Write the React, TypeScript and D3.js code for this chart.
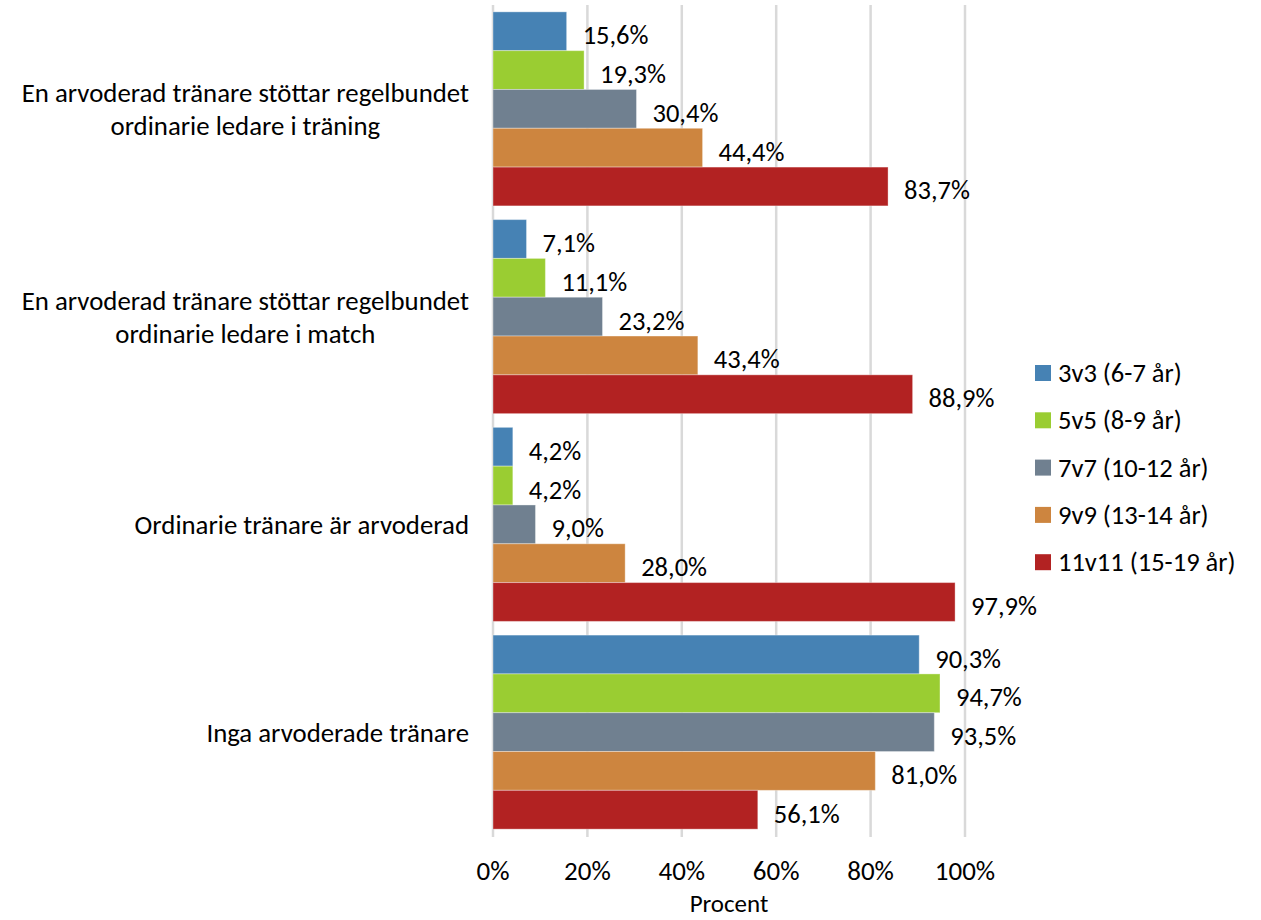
import React, { useEffect, useRef } from "react";
import * as d3 from "d3";

const categories = [
  "En arvoderad tränare stöttar regelbundet\nordinarie ledare i träning",
  "En arvoderad tränare stöttar regelbundet\nordinarie ledare i match",
  "Ordinarie tränare är arvoderad",
  "Inga arvoderade tränare",
];
const seriesNames = ["3v3 (6-7 år)", "5v5 (8-9 år)", "7v7 (10-12 år)", "9v9 (13-14 år)", "11v11 (15-19 år)"];
const seriesColors = ["#4682b4", "#9acd32", "#708090", "#cd853f", "#b22222"];
const s3v3 = [15.6, 7.1, 4.2, 90.3];
const s5v5 = [19.3, 11.1, 4.2, 94.7];
const s7v7 = [30.4, 23.2, 9.0, 93.5];
const s9v9 = [44.4, 43.4, 28.0, 81.0];
const s11v11 = [83.7, 88.9, 97.9, 56.1];
const seriesValues = [s3v3, s5v5, s7v7, s9v9, s11v11];
const xTicks = [0, 20, 40, 60, 80, 100];
const axisTitle = "Procent";

const W = 1261, H = 920;
const FONT = "Carlito, Calibri, Lato, sans-serif";

export default function App() {
  const ref = useRef<SVGSVGElement>(null);
  useEffect(() => {
    const svg = d3.select(ref.current);
    svg.selectAll("*").remove();
    const x = d3.scaleLinear().domain([0, 100]).range([493, 965]);
    const y0 = d3.scaleBand<number>().domain(d3.range(categories.length)).range([5, 836]).paddingInner(0.066).paddingOuter(0.033);
    const y1 = d3.scaleBand<number>().domain(d3.range(seriesNames.length)).range([0, y0.bandwidth()]);

    // gridlines
    svg.append("g").selectAll("line").data(xTicks).join("line")
      .attr("x1", d => x(d)).attr("x2", d => x(d))
      .attr("y1", 5).attr("y2", 837)
      .attr("stroke", "#d9d9d9").attr("stroke-width", 2.5);

    // bars
    const g = svg.append("g");
    categories.forEach((_, ci) => {
      seriesValues.forEach((vals, si) => {
        const v = vals[ci];
        const by = (y0(ci) as number) + (y1(si) as number);
        g.append("rect")
          .attr("x", x(0)).attr("y", by)
          .attr("width", x(v) - x(0)).attr("height", y1.bandwidth())
          .attr("fill", seriesColors[si])
          .attr("stroke", "rgba(255,255,255,0.35)").attr("stroke-width", 1);
        g.append("text")
          .attr("x", x(v) + 16).attr("y", by + y1.bandwidth() / 2 + 4)
          .attr("dominant-baseline", "central")
          .attr("font-family", FONT).attr("font-size", 26.5).attr("fill", "#000")
          .text(d3.format(".1f")(v).replace(".", ",") + "%");
      });
    });

    // category labels
    const cg = svg.append("g");
    categories.forEach((c, ci) => {
      const lines = c.split("\n");
      const cy = (y0(ci) as number) + y0.bandwidth() / 2;
      const lh = 33;
      const texts = lines.map((ln, li) =>
        cg.append("text")
          .attr("y", cy + (li - (lines.length - 1) / 2) * lh)
          .attr("dominant-baseline", "central")
          .attr("text-anchor", "middle")
          .attr("font-family", FONT).attr("font-size", 26.8).attr("fill", "#000")
          .text(ln)
      );
      const maxW = d3.max(texts, t => (t.node() as SVGTextElement).getComputedTextLength()) || 0;
      texts.forEach(t => t.attr("x", 469 - maxW / 2));
    });

    // x tick labels
    svg.append("g").selectAll("text").data(xTicks).join("text")
      .attr("x", d => x(d)).attr("y", 870)
      .attr("dominant-baseline", "central").attr("text-anchor", "middle")
      .attr("font-family", FONT).attr("font-size", 27).attr("fill", "#000")
      .text(d => d + "%");

    svg.append("text")
      .attr("x", (x(0) + x(100)) / 2).attr("y", 903)
      .attr("dominant-baseline", "central").attr("text-anchor", "middle")
      .attr("font-family", FONT).attr("font-size", 25).attr("fill", "#000")
      .text(axisTitle);

    // legend
    const lg = svg.append("g");
    seriesNames.forEach((n, i) => {
      const ly = 373 + i * 47.3;
      lg.append("rect").attr("x", 1035).attr("y", ly - 8).attr("width", 16).attr("height", 16).attr("fill", seriesColors[i]);
      lg.append("text").attr("x", 1058).attr("y", ly)
        .attr("dominant-baseline", "central")
        .attr("font-family", FONT).attr("font-size", 26.5).attr("fill", "#000")
        .text(n);
    });
  }, []);
  return (
    <svg ref={ref} width={W} height={H} style={{ position: "absolute", left: 0, top: 0, background: "#fff" }} />
  );
}
